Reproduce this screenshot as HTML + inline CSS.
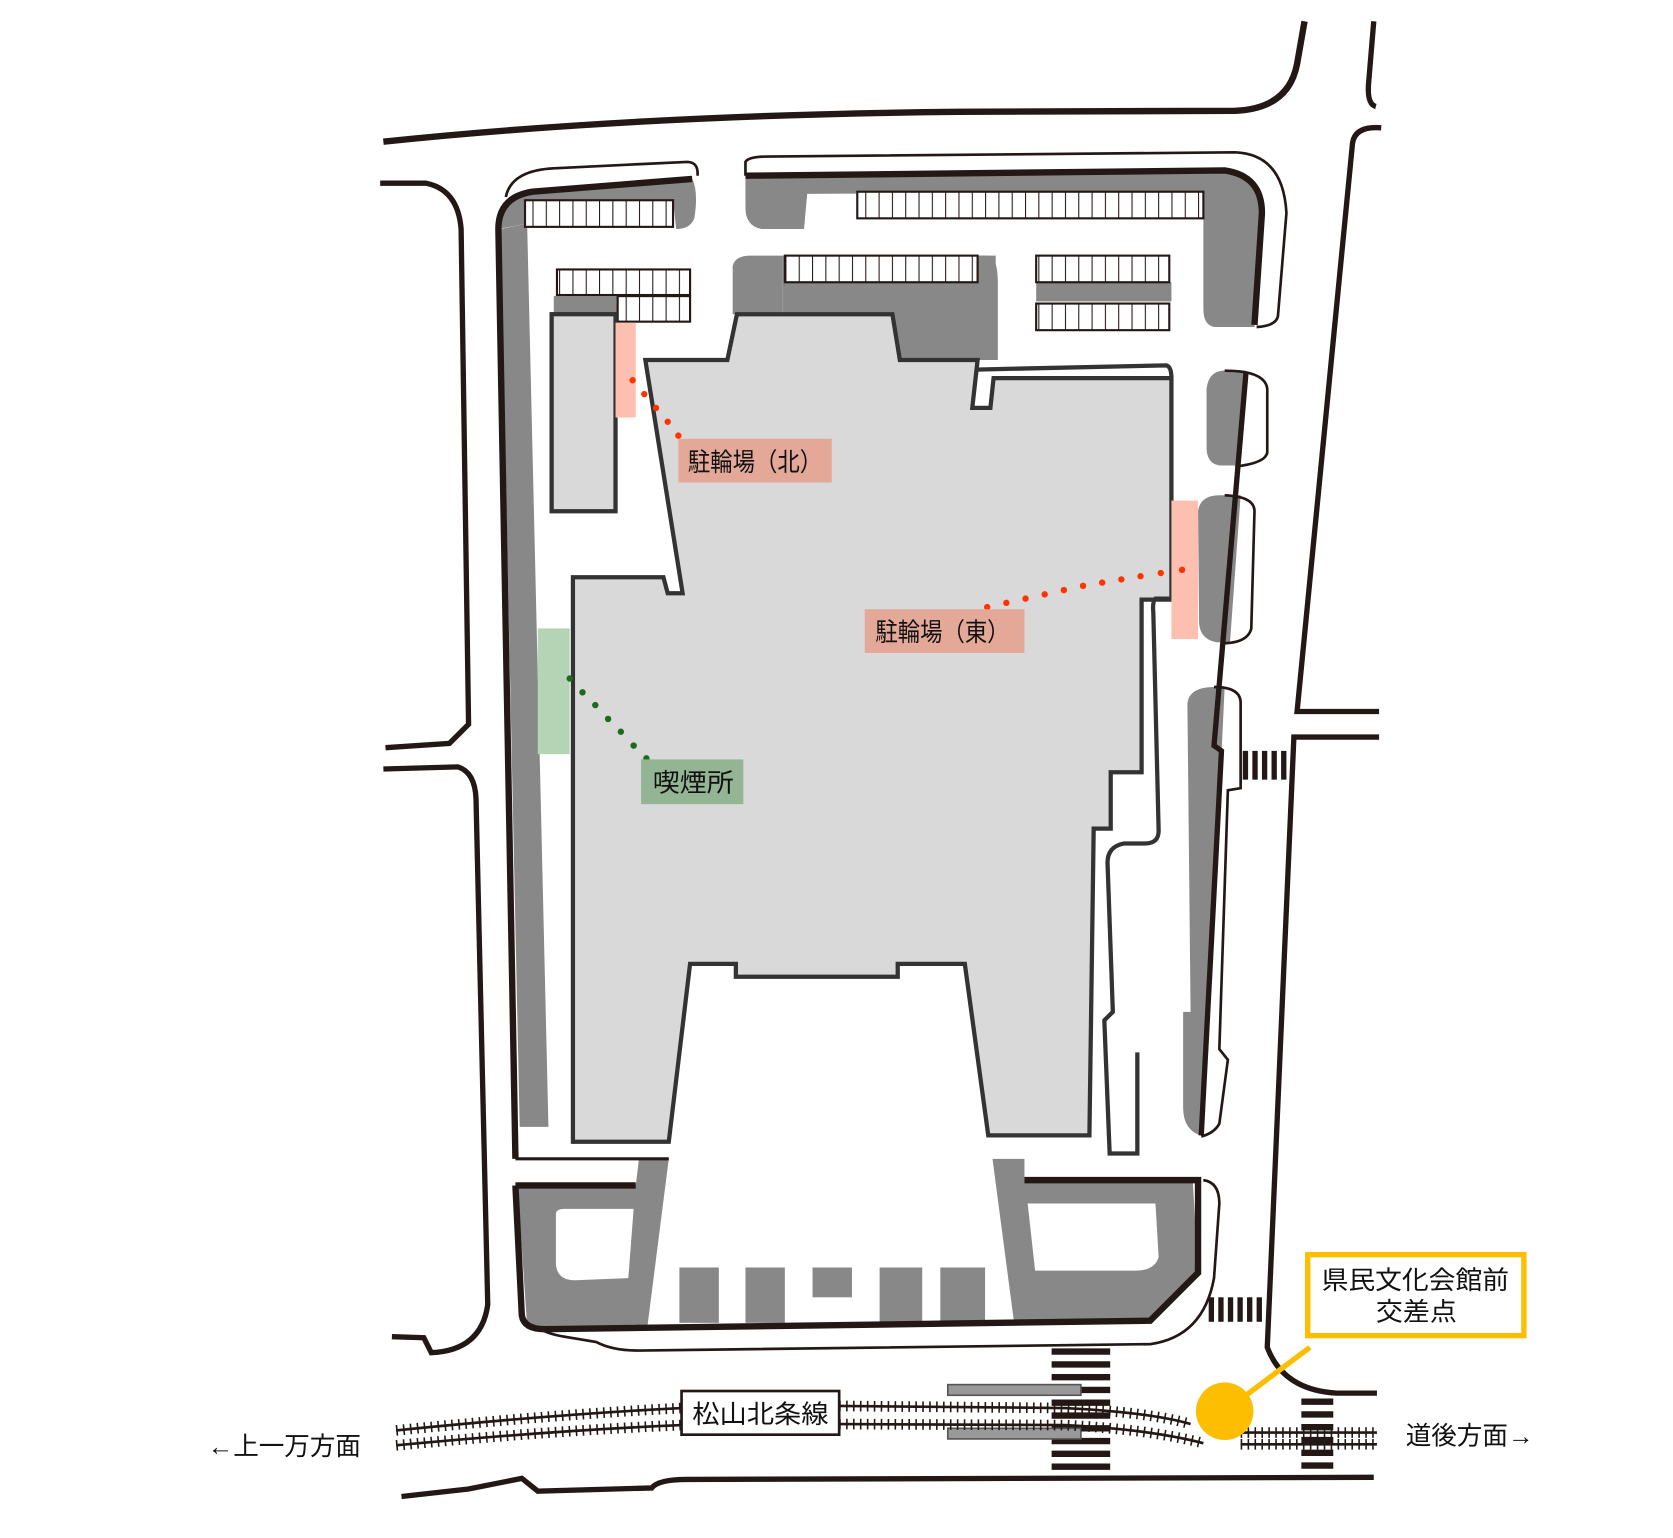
<!DOCTYPE html>
<html><head><meta charset="utf-8"><style>
html,body{margin:0;padding:0;background:#fff;}
svg{display:block;}
text{font-family:"Liberation Sans","Noto Sans CJK JP",sans-serif;fill:#111;}
.ar{font-family:"Liberation Sans",sans-serif;}
</style></head><body>
<svg width="1673" height="1538" viewBox="0 0 1571 1444" preserveAspectRatio="none" xmlns="http://www.w3.org/2000/svg">
<defs>
<pattern id="rk" width="12.5" height="30" patternUnits="userSpaceOnUse"><rect width="12.5" height="30" fill="#fff"/><line x1="0" y1="0" x2="0" y2="30" stroke="#231815" stroke-width="2"/></pattern>
</defs>
<rect width="1571" height="1444" fill="#fff"/>
<g fill="none" stroke="#231815" stroke-linecap="butt">
<path d="M360,133 Q600,108 900,105 L1160,104 Q1210,102 1218,60 L1225,20" stroke-width="6"/>
<path d="M1290,20 L1285,80 Q1284,98 1292,100" stroke-width="5"/>
<path d="M1297,120 Q1272,118 1270,135 L1218,668 L1295,668" stroke-width="5"/>
<path d="M1295,692 L1215,692 L1190,1265 Q1205,1305 1255,1308 L1293,1308" stroke-width="5"/>
<path d="M357,172 L400,172 Q430,178 433,215 L440,680 L422,698 L362,702" stroke-width="5"/>
<path d="M360,722 L430,720 Q446,725 447,750 L458,1225 Q452,1268 405,1270 L398,1256 L368,1255" stroke-width="5"/>
<path d="M377,1405 L440,1398 L490,1388 L505,1400 L612,1397 Q618,1389 645,1389 L1290,1387" stroke-width="5"/>
</g>
<g fill="#888">
<path d="M468,215 Q470,182 500,180 L650,168 Q656,180 652,205 Q648,215 635,215 L632,188 L495,188 L495,210 Z"/>
<path d="M470,215 L495,210 L515,1058 L488,1058 Z"/>
<path d="M700,165 L1150,160 Q1185,165 1185,200 L1178,307 L1140,307 Q1130,305 1130,290 L1130,180 L758,182 L755,215 L715,215 Q700,212 700,195 Z"/>
<path d="M688,250 Q690,240 705,240 L735,240 L735,295 L688,295 Z"/>
<rect x="735" y="240" width="200" height="98"/>
<path d="M918,240 L930,240 Q937,245 937,265 L937,338 L918,338 Z"/>
<rect x="973" y="265" width="127" height="18"/>
<rect x="520" y="278" width="60" height="18"/>
<path d="M1133,365 Q1135,348 1150,348 L1170,348 L1162,437 L1145,437 Q1133,435 1133,420 Z"/>
<path d="M1125,480 Q1127,465 1145,465 L1165,465 L1155,603 L1142,603 Q1127,600 1126,585 Z"/>
<path d="M1115,660 Q1117,645 1140,645 L1150,645 L1130,1067 Q1111,1062 1111,1040 L1111,950 L1118,950 Z"/>
<path d="M486,1113 L597,1113 L600,1088 L628,1088 L608,1245 L495,1245 Z"/>
<path d="M932,1088 L962,1088 L962,1108 L1120,1108 L1125,1195 L1080,1240 L952,1240 Z"/>
<rect x="638" y="1190" width="37" height="52"/>
<rect x="700" y="1190" width="37" height="52"/>
<rect x="763" y="1190" width="37" height="28"/>
<rect x="826" y="1190" width="40" height="52"/>
<rect x="883" y="1190" width="42" height="52"/>
</g>
<path d="M522,1140 Q522,1135 530,1135 L595,1135 L590,1200 L540,1202 Q522,1202 522,1185 Z" fill="#fff"/>
<path d="M965,1130 L1085,1130 L1088,1180 Q1085,1192 1068,1193 L972,1193 Z" fill="#fff"/>
<g stroke="#231815" stroke-width="2">
<rect x="805" y="180" width="325" height="25" fill="url(#rk)"/>
<rect x="493" y="188" width="139" height="25" fill="url(#rk)"/>
<rect x="523" y="253" width="125" height="24" fill="url(#rk)"/>
<rect x="580" y="278" width="68" height="24" fill="url(#rk)"/>
<rect x="737" y="240" width="181" height="25" fill="url(#rk)"/>
<rect x="973" y="240" width="125" height="25" fill="url(#rk)"/>
<rect x="973" y="285" width="125" height="25" fill="url(#rk)"/>
</g>
<g fill="none" stroke="#231815">
<path d="M650,168 L500,180 Q468,185 468,215 L484,1088" stroke-width="6"/>
<path d="M700,165 L1150,160 Q1185,165 1185,200 L1178,305" stroke-width="6"/>
<path d="M475,185 Q480,160 520,158 L645,152 Q656,152 655,165" stroke-width="2.5"/>
<path d="M700,165 L700,152 Q703,147 720,147 L1160,143 Q1205,145 1208,200 L1200,297 Q1198,306 1180,307" stroke-width="2.5"/>
<path d="M1170,350 L1140,700 L1147,705 L1128,1066" stroke-width="5"/>
<path d="M1150,348 Q1188,348 1190,365 L1190,425 Q1188,435 1160,438" stroke-width="2.5"/>
<path d="M1150,465 Q1178,466 1178,480 L1175,590 Q1172,603 1150,604" stroke-width="2.5"/>
<path d="M1140,645 Q1165,645 1165,660 L1165,740 L1153,742 L1145,985 L1153,995 L1145,1055 Q1140,1064 1128,1067" stroke-width="2.5"/>
<path d="M484,1113 L597,1113 M484,1113 L490,1235 Q492,1248 512,1248 L1080,1240 L1125,1195 L1125,1108 L962,1108" stroke-width="6"/>
<path d="M484,1088 L628,1088" stroke-width="3"/>
<path d="M1130,1108 Q1145,1110 1145,1130 L1140,1200 Q1130,1255 1080,1262 L600,1268 Q575,1268 560,1260 L530,1255 Q512,1252 505,1246" stroke-width="2.5"/>
</g>
<rect x="518" y="295" width="60" height="185" fill="#d9d9d9" stroke="#333" stroke-width="4"/>
<rect x="578" y="303" width="19" height="89" fill="#fdc0b0"/>
<path d="M606,338 L683,338 L692,295 L838,295 L845,338 L918,338 L913,383 L930,383 L933,355 L1100,355 L1100,563 L1072,563 L1072,725 L1043,725 L1043,778 L1027,778 L1023,1066 L928,1066 L906,905 L843,905 L843,917 L691,917 L691,905 L648,905 L628,1072 L538,1072 L538,542 L623,542 L627,557 L641,557 Z" fill="#d9d9d9" stroke="#333" stroke-width="4"/>
<path d="M916,347 L1095,343 Q1100,344 1100,355" fill="none" stroke="#333" stroke-width="4"/>
<path d="M1098,562 L1085,562 Q1082,565 1083,575 L1088,780 Q1088,792 1075,792 L1055,792 Q1040,795 1040,810 L1045,950 L1037,958 L1042,1083 L1068,1083 L1068,988" fill="none" stroke="#333" stroke-width="4"/>
<rect x="1100" y="470" width="25" height="130" fill="#fdc0b0"/>
<rect x="505" y="590" width="30" height="118" fill="#b5d4b5"/>
<g fill="#231815">
<rect x="1167" y="705" width="5" height="27"/><rect x="1176" y="705" width="5" height="27"/><rect x="1185" y="705" width="5" height="27"/><rect x="1194" y="705" width="5" height="27"/><rect x="1203" y="705" width="5" height="27"/>
<rect x="1135" y="1218" width="5" height="23"/><rect x="1144" y="1218" width="5" height="23"/><rect x="1153" y="1218" width="5" height="23"/><rect x="1162" y="1218" width="5" height="23"/><rect x="1171" y="1218" width="5" height="23"/><rect x="1180" y="1218" width="5" height="23"/>
</g>
<g stroke="#231815" stroke-width="6" stroke-dasharray="6 6">
<line x1="1015" y1="1266" x2="1015" y2="1386" stroke-width="55"/>
<line x1="1237" y1="1313" x2="1237" y2="1386" stroke-width="30"/>
</g>
<rect x="890" y="1300" width="125" height="10" fill="#999" stroke="#555" stroke-width="1.5"/>
<rect x="890" y="1341" width="125" height="10" fill="#999" stroke="#555" stroke-width="1.5"/>
<g fill="none" stroke="#231815">
<g stroke-width="2.5">
<path d="M372,1343 Q520,1328 640,1322"/><path d="M372,1357 Q520,1343 640,1338"/>
<path d="M788,1320 L1000,1322 Q1080,1326 1118,1337"/><path d="M788,1337 L1000,1338 Q1080,1342 1130,1355"/>
<path d="M1165,1345 L1293,1345"/><path d="M1165,1356 L1293,1356"/>
</g>
<g stroke-width="10" stroke-dasharray="1.5 5">
<path d="M372,1343 Q520,1328 640,1322"/><path d="M372,1357 Q520,1343 640,1338"/>
<path d="M788,1320 L1000,1322 Q1080,1326 1118,1337"/><path d="M788,1337 L1000,1338 Q1080,1342 1130,1355"/>
<path d="M1165,1345 L1293,1345"/><path d="M1165,1356 L1293,1356"/>
</g>
</g>
<rect x="640" y="1306" width="148" height="41" fill="#fff" stroke="#231815" stroke-width="2.5"/>
<text x="650" y="1336" font-size="24" textLength="128" lengthAdjust="spacingAndGlyphs">松山北条線</text>
<line x1="1150" y1="1325" x2="1230" y2="1265" stroke="#fdbd00" stroke-width="5"/>
<circle cx="1150" cy="1325" r="27" fill="#fdbd00"/>
<rect x="1228" y="1178" width="203" height="76" fill="#fff" stroke="#fdbd00" stroke-width="5"/>
<text x="1241" y="1210" font-size="24" textLength="176" lengthAdjust="spacingAndGlyphs">県民文化会館前</text>
<text x="1292" y="1240" font-size="24" textLength="76" lengthAdjust="spacingAndGlyphs">交差点</text>
<g fill="#ff3300">
<circle cx="594" cy="357" r="3"/><circle cx="605" cy="370" r="3"/><circle cx="616" cy="383" r="3"/><circle cx="627" cy="396" r="3"/><circle cx="637" cy="409" r="3"/>
<circle cx="927" cy="570" r="3"/><circle cx="945" cy="566" r="3"/><circle cx="963" cy="562" r="3"/><circle cx="981" cy="558" r="3"/><circle cx="999" cy="554" r="3"/><circle cx="1017" cy="550" r="3"/><circle cx="1035" cy="547" r="3"/><circle cx="1053" cy="544" r="3"/><circle cx="1071" cy="541" r="3"/><circle cx="1090" cy="538" r="3"/><circle cx="1110" cy="535" r="3"/>
</g>
<g fill="#1a6b1a">
<circle cx="535" cy="637" r="3"/><circle cx="547" cy="650" r="3"/><circle cx="559" cy="662" r="3"/><circle cx="571" cy="675" r="3"/><circle cx="583" cy="687" r="3"/><circle cx="595" cy="700" r="3"/><circle cx="607" cy="712" r="3"/>
</g>
<rect x="637" y="412" width="144" height="41" fill="#e3a898"/>
<text x="646" y="442" font-size="24" textLength="126" lengthAdjust="spacingAndGlyphs">駐輪場（北）</text>
<rect x="812" y="572" width="150" height="41" fill="#e3a898"/>
<text x="822" y="602" font-size="24" textLength="126" lengthAdjust="spacingAndGlyphs">駐輪場（東）</text>
<rect x="602" y="713" width="96" height="42" fill="#93b594"/>
<text x="613" y="743" font-size="24" textLength="76" lengthAdjust="spacingAndGlyphs">喫煙所</text>
<text x="195" y="1366" font-size="24"><tspan class="ar">←</tspan>上一万方面</text>
<text x="1320" y="1356" font-size="24">道後方面<tspan class="ar">→</tspan></text>
</svg>
</body></html>
